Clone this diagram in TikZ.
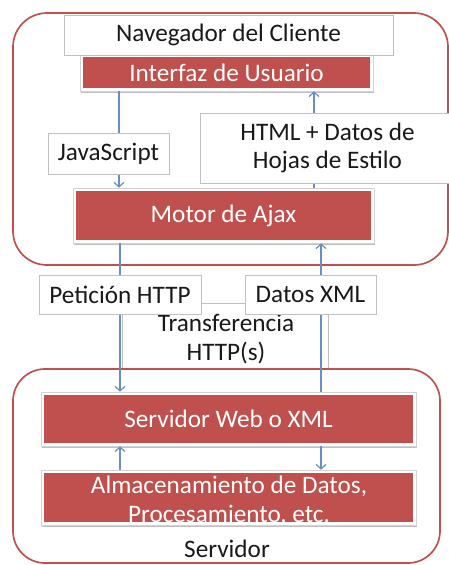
\documentclass[tikz,border=0pt]{standalone}
\usepackage{fontspec}
\setmainfont{Carlito}
\usetikzlibrary{arrows.meta,shadows}
\definecolor{boxred}{RGB}{192,80,77}
\definecolor{flow}{RGB}{105,142,195}
\definecolor{edge}{RGB}{192,192,192}
\definecolor{ink}{RGB}{25,25,25}

\begin{document}
\begin{tikzpicture}[x=1pt,y=-1pt,
  txt/.style={font=\fontsize{25.2}{28.8}\selectfont, align=center, inner sep=0pt},
  lbl/.style={txt, draw=edge, fill=white, line width=0.8pt, text=ink},
  frame/.style={draw=edge!70, fill=white, line width=0.6pt, inner sep=0pt,
    drop shadow={shadow xshift=0.6pt, shadow yshift=-1.6pt, opacity=0.25, fill=black}},
  redbox/.style={txt, fill=boxred, text=white},
  zone/.style={draw=boxred, line width=1.7pt, rounded corners=34pt},
  flowline/.style={draw=flow, line width=1.3pt},
  tip/.style={-{Straight Barb[length=4.5pt,width=10pt,line width=1.2pt]}}
]
\useasboundingbox (0,0) rectangle (449,565);

% HTTP transfer band between client and server
\node[lbl, minimum width=206, minimum height=65] (xfer) at (225,335.5) {};
\node[txt, text=ink] (xfertext) at (226,339) {Transferencia\\HTTP(s)};

% client and server zones
\draw[zone] (13,13) rectangle (448,265);
\draw[zone, rounded corners=32pt] (13,369) rectangle (440,563);
\node[txt, text=ink] (srvlabel) at (227,549) {Servidor};

% framed red layers
\node[frame, minimum width=293, minimum height=36] (uiF) at (226.5,73) {};
\node[redbox, minimum width=287, minimum height=31] (ui) at (226.5,72.5) {Interfaz de Usuario};
\node[frame, minimum width=301, minimum height=55] (ajaxF) at (223.5,215.5) {};
\node[redbox, minimum width=295, minimum height=49] (ajax) at (223.5,215.5) {Motor de Ajax};
\node[frame, minimum width=375, minimum height=54] (webF) at (228.5,419) {};
\node[redbox, minimum width=369, minimum height=48] (web) at (228.5,419) {Servidor Web o XML};
\node[frame, minimum width=375, minimum height=55] (dataF) at (228.5,497.5) {};
\node[redbox, minimum width=369, minimum height=49] (data) at (228.5,497.5) {};
% the two-line caption is cut off at the lower edge of its box
\begin{scope}
  \clip (data.north west) rectangle (data.south east);
  \node[txt, text=white] (datatext) at (229,500.5) {Almacenamiento de Datos,\\Procesamiento, etc.};
\end{scope}

% flow columns
\coordinate (cL) at (119,0);
\coordinate (cR) at (314,0);
\coordinate (sL) at (120,0);
\coordinate (sR) at (321,0);

\draw[flowline, tip] (uiF.south -| cL) -- (ajaxF.north -| cL);
\draw[flowline, tip] (ajaxF.north -| cR) -- (uiF.south -| cR);
\draw[flowline, tip] (ajaxF.south -| sL) -- (webF.north -| sL);
\draw[flowline, tip] (webF.north -| sR) -- (ajaxF.south -| sR);
\draw[flowline, tip] (dataF.north -| sL) -- (webF.south -| sL);
\draw[flowline, tip] (webF.south -| sR) -- (dataF.north -| sR);

% labels on the flows
\node[lbl, minimum width=329, minimum height=40] (browser) at (228.5,35) {Navegador del Cliente};
\node[lbl, minimum width=121, minimum height=41] (js) at (108.5,153.5) {JavaScript};
\node[lbl, minimum width=255, minimum height=70] (html) at (327.5,148) {HTML + Datos de\\Hojas de Estilo};
\node[lbl, minimum width=162, minimum height=39] (req) at (120,294.5) {Petición HTTP};
\node[lbl, minimum width=131, minimum height=39] (xml) at (310.5,294.5) {Datos XML};
\end{tikzpicture}
\end{document}
